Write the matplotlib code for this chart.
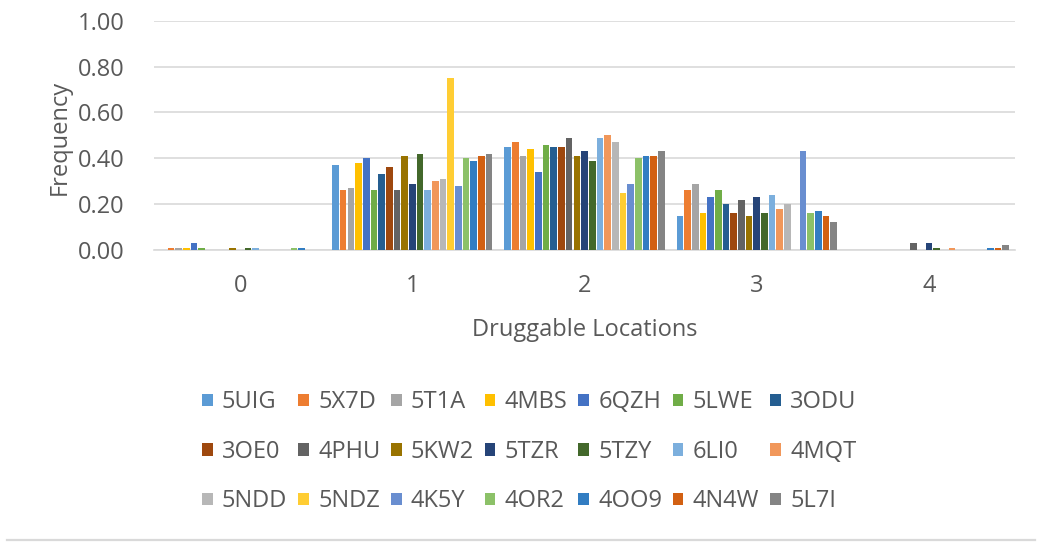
import matplotlib
matplotlib.use("Agg")
import matplotlib.pyplot as plt
from matplotlib.patches import Patch
from matplotlib.lines import Line2D
import numpy as np

plt.rcParams['font.family'] = ['Open Sans', 'DejaVu Sans']

categories = ['0', '1', '2', '3', '4']
series_names = ['5UIG', '5X7D', '5T1A', '4MBS', '6QZH', '5LWE', '3ODU',
                '3OE0', '4PHU', '5KW2', '5TZR', '5TZY', '6LI0', '4MQT',
                '5NDD', '5NDZ', '4K5Y', '4OR2', '4OO9', '4N4W', '5L7I']

s_5UIG = [0.00, 0.37, 0.45, 0.15, 0.00]
s_5X7D = [0.01, 0.26, 0.47, 0.26, 0.00]
s_5T1A = [0.01, 0.27, 0.41, 0.29, 0.00]
s_4MBS = [0.01, 0.38, 0.44, 0.16, 0.00]
s_6QZH = [0.03, 0.40, 0.34, 0.23, 0.00]
s_5LWE = [0.01, 0.26, 0.46, 0.26, 0.00]
s_3ODU = [0.00, 0.33, 0.45, 0.20, 0.00]
s_3OE0 = [0.00, 0.36, 0.45, 0.16, 0.00]
s_4PHU = [0.00, 0.26, 0.49, 0.22, 0.03]
s_5KW2 = [0.01, 0.41, 0.41, 0.15, 0.00]
s_5TZR = [0.00, 0.29, 0.43, 0.23, 0.03]
s_5TZY = [0.01, 0.42, 0.39, 0.16, 0.01]
s_6LI0 = [0.01, 0.26, 0.49, 0.24, 0.00]
s_4MQT = [0.00, 0.30, 0.50, 0.18, 0.01]
s_5NDD = [0.00, 0.31, 0.47, 0.20, 0.00]
s_5NDZ = [0.00, 0.75, 0.25, 0.00, 0.00]
s_4K5Y = [0.00, 0.28, 0.29, 0.43, 0.00]
s_4OR2 = [0.01, 0.40, 0.40, 0.16, 0.00]
s_4OO9 = [0.01, 0.39, 0.41, 0.17, 0.01]
s_4N4W = [0.00, 0.41, 0.41, 0.15, 0.01]
s_5L7I = [0.00, 0.42, 0.43, 0.12, 0.02]

series_values = [s_5UIG, s_5X7D, s_5T1A, s_4MBS, s_6QZH, s_5LWE, s_3ODU,
                 s_3OE0, s_4PHU, s_5KW2, s_5TZR, s_5TZY, s_6LI0, s_4MQT,
                 s_5NDD, s_5NDZ, s_4K5Y, s_4OR2, s_4OO9, s_4N4W, s_5L7I]

colors = ['#5B9BD5', '#ED7D31', '#A5A5A5', '#FFC000', '#4472C4', '#70AD47', '#255E91',
          '#9E480E', '#636363', '#997300', '#264478', '#43682B', '#7CAFDD', '#F1975A',
          '#B7B7B7', '#FFCD33', '#698ED0', '#8CC168', '#327DC2', '#D26012', '#848484']

y_ticks = [0.0, 0.2, 0.4, 0.6, 0.8, 1.0]
y_ticklabels = ['0.00', '0.20', '0.40', '0.60', '0.80', '1.00']

text_color = '#595959'
grid_color = '#D9D9D9'
fs = 17

fig = plt.figure(figsize=(10.5, 5.51), dpi=100)
ax = fig.add_axes([0.1467, 0.5463, 0.82, 0.4161])

n = len(series_names)
x = np.arange(len(categories))
group_w = 0.937
pitch = group_w / n
for i, (name, vals) in enumerate(zip(series_names, series_values)):
    offs = (i - (n - 1) / 2) * pitch
    ax.bar(x + offs, vals, width=pitch * 0.86, color=colors[i], label=name, zorder=3)

ax.set_xlim(-0.5, len(categories) - 0.5)
ax.set_ylim(0, 1.0)
ax.set_yticks(y_ticks)
ax.set_yticklabels(y_ticklabels)
ax.set_xticks(x)
ax.set_xticklabels(categories)
ax.tick_params(axis='both', length=0, labelsize=fs, colors=text_color)
ax.tick_params(axis='x', pad=17)
ax.tick_params(axis='y', pad=21)
ax.yaxis.grid(True, color=grid_color, linewidth=1.2, zorder=0)
ax.set_axisbelow(True)
for s in ['top', 'right', 'left']:
    ax.spines[s].set_visible(False)
ax.spines['bottom'].set_color(grid_color)
ax.spines['bottom'].set_linewidth(1.2)

ax.set_xlabel('Druggable Locations', fontsize=fs, color=text_color, labelpad=15)
ax.set_ylabel('Frequency', fontsize=fs, color=text_color)
ax.yaxis.set_label_coords(-0.095, 0.49)

# legend filled row by row (matplotlib fills column-wise, so reorder)
ncol, nrow = 7, 3
handles = [Patch(facecolor=c, edgecolor='none') for c in colors]
order = [r * ncol + c for c in range(ncol) for r in range(nrow)]
fig.legend([handles[k] for k in order], [series_names[k] for k in order],
           loc='center', bbox_to_anchor=(0.504, 0.18),
           ncol=ncol, frameon=False, fontsize=fs, labelcolor=text_color,
           handlelength=0.45, handleheight=0.45, handletextpad=0.4,
           columnspacing=0.45, labelspacing=1.08)

fig.add_artist(Line2D([0.007, 0.986], [1 - 540 / 551, 1 - 540 / 551],
                      color=grid_color, linewidth=1.6, transform=fig.transFigure))

fig.savefig('out.png', dpi=100, facecolor='white')
